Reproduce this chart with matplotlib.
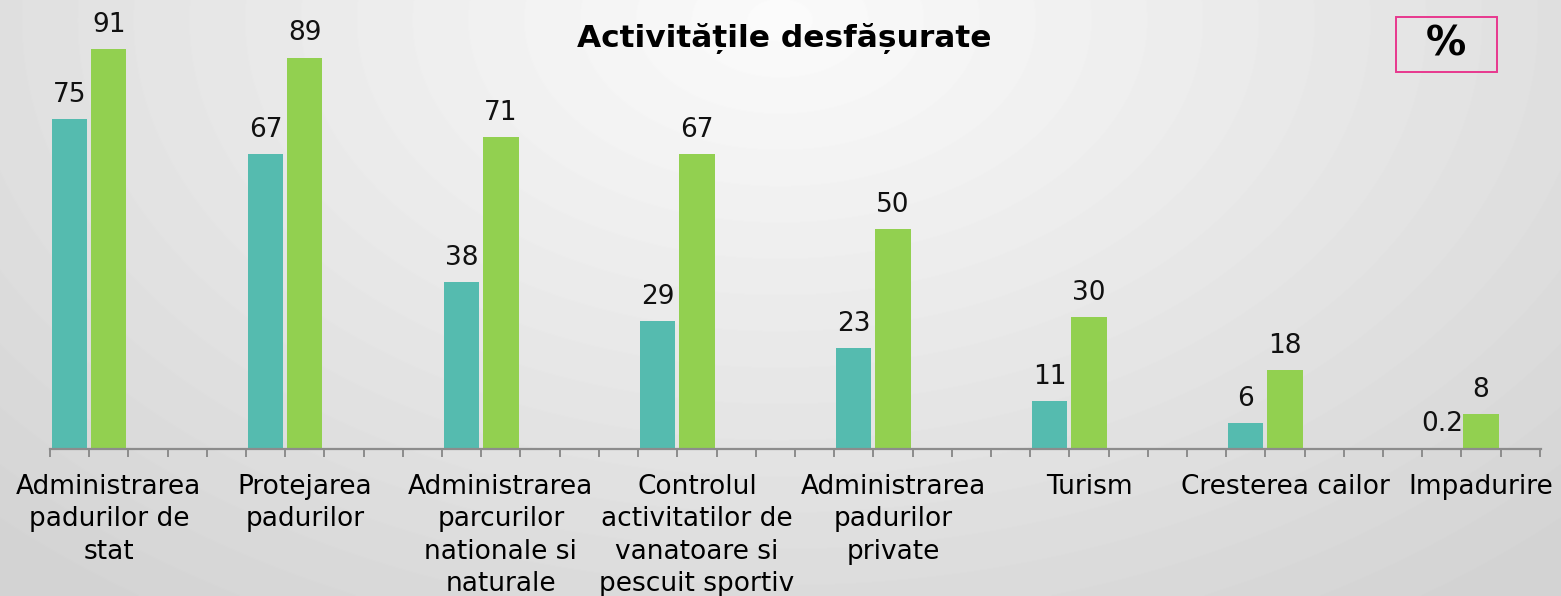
import matplotlib.pyplot as plt
import numpy as np

categories = [
    "Administrarea\npadurilor de\nstat",
    "Protejarea\npadurilor",
    "Administrarea\nparcurilor\nnationale si\nnaturale",
    "Controlul\nactivitatilor de\nvanatoare si\npescuit sportiv",
    "Administrarea\npadurilor\nprivate",
    "Turism",
    "Cresterea cailor",
    "Impadurire",
]
series_a = [75, 67, 38, 29, 23, 11, 6, 0.2]
series_b = [91, 89, 71, 67, 50, 30, 18, 8]
labels_a = ["75", "67", "38", "29", "23", "11", "6", "0.2"]
labels_b = ["91", "89", "71", "67", "50", "30", "18", "8"]

teal = "#55BBAF"
green = "#92D050"
axis_grey = "#8C8C8C"

plt.rcParams["font.family"] = ["DejaVu Sans"]

W, H = 1561, 596
fig = plt.figure(figsize=(W / 100, H / 100), dpi=100)

# radial grey background, lightest near the title
bg = fig.add_axes([0, 0, 1, 1])
yy, xx = np.mgrid[0:H, 0:W]
r = np.sqrt(((xx - 780) / 1000.0) ** 2 + ((yy - 20) / 650.0) ** 2)
shade = 0.985 - 0.14 * np.clip(r, 0, 1.1)
bg.imshow(shade, cmap="gray", vmin=0, vmax=1, aspect="auto", extent=(0, 1, 0, 1))
bg.set_axis_off()

ax = fig.add_axes([50 / W, 147 / H, 1491 / W, 449 / H])
ax.set_facecolor("none")

slot = 5
pos = np.arange(len(categories)) * slot
ba = ax.bar(pos + 0.5, series_a, width=0.9, color=teal)
bb = ax.bar(pos + 1.5, series_b, width=0.9, color=green)

for bars, labs in ((ba, labels_a), (bb, labels_b)):
    for rect, lab in zip(bars, labs):
        ax.annotate(lab, (rect.get_x() + rect.get_width() / 2, rect.get_height()),
                    xytext=(0, 8), textcoords="offset points",
                    ha="center", va="bottom", fontsize=19, color="#111111")

ax.set_xlim(0, 38.03)
ax.set_ylim(0, 102.1)

ax.set_xticks(np.arange(0, 39))
ax.set_xticklabels([])
ax.set_xticks(pos + 1.5, minor=True)
ax.set_xticklabels(categories, minor=True, fontsize=19, linespacing=1.32, va="top")
ax.tick_params(axis="x", which="major", direction="out", length=6, width=1.4, color=axis_grey)
ax.tick_params(axis="x", which="minor", length=0, pad=18)
ax.set_yticks([])
for s in ("left", "right", "top"):
    ax.spines[s].set_visible(False)
ax.spines["bottom"].set_color(axis_grey)
ax.spines["bottom"].set_linewidth(1.6)

fig.text(784 / W, 1 - 38 / H, "Activitățile desfășurate", fontsize=22.5,
         fontweight="bold", ha="center", va="center")

box = plt.Rectangle((1396 / W, 1 - 72 / H), 101 / W, 55 / H, transform=fig.transFigure,
                    fill=False, edgecolor="#E8388E", linewidth=1.4)
fig.add_artist(box)
fig.text(1446 / W, 1 - 45 / H, "%", fontsize=29, fontweight="bold", ha="center", va="center")

fig.savefig("out.png", dpi=100)
